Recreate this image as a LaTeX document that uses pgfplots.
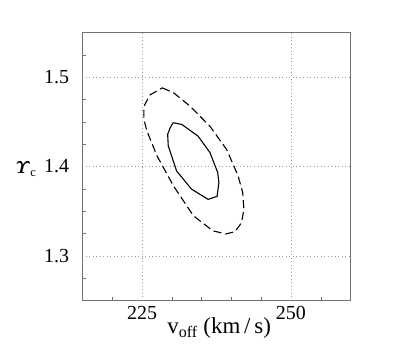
\documentclass[border=0pt]{standalone}
\usepackage{amsmath,bm}
\usepackage{fontspec}
\setmainfont{Liberation Serif}
\usepackage{pgfplots}
\pgfplotsset{compat=1.18}
\newcommand\bigf{\fontsize{20}{22}\selectfont}
\newcommand\labf{\fontsize{23}{26}\selectfont}
\begin{document}
\begin{tikzpicture}
\definecolor{axgray}{gray}{0.45}
\begin{axis}[
    scale only axis, width=268bp, height=268bp,
    xmin=215, xmax=260, ymin=1.25, ymax=1.55,
    xtick={225,250}, ytick={1.3,1.4,1.5},
    minor xtick={220,230,235,240,245,255},
    minor ytick={1.275,1.325,1.35,1.375,1.425,1.45,1.475,1.525},
    yticklabels={1.3,1.4,1.5},
    tick align=inside, tick pos=left,
    major tick length=0pt, minor tick length=4bp,
    every tick/.style={axgray, thin},
    axis line style={axgray, line width=0.8pt},
    grid=major,
    grid style={gray!80, line width=0.6pt, dash pattern=on 1bp off 2.5bp},
    /pgf/number format/assume math mode=true,
    tick label style={font=\bigf},
    xticklabel style={yshift=-2bp},
    yticklabel style={xshift=-10bp},
    xlabel={$\text{v}_{\text{off}}$ (km\,/\,s)},
    xlabel style={font=\labf, at={(axis description cs:0.51,-0.104)}, anchor=center},
    ylabel={{\boldmath$\bm{\varUpsilon}$}$_{\text{c}}$},
    ylabel style={font=\fontsize{18}{20}\selectfont, rotate=-90, at={(axis description cs:-0.21,0.49)}, anchor=center},
  ]
\addplot[black, line width=1.1pt, dash pattern=on 8bp off 4bp] coordinates {
  (228.4,1.488) (230.3,1.4825) (233.05,1.4676) (236.4,1.445) (239.2,1.419)
  (241.1,1.390) (241.9,1.371) (242.1,1.352) (241.7,1.337) (240.6,1.327) (239.05,1.3245)
  (236.9,1.328) (233.6,1.345) (230.3,1.378) (227.5,1.412) (225.8,1.440) (225.3,1.453)
  (225.3,1.467) (226.3,1.480) (228.4,1.488)};
\addplot[black, line width=1.1pt] coordinates {
  (230.2,1.449) (231.7,1.447) (234.4,1.434) (236.4,1.4156) (237.7,1.3933)
  (237.9,1.382) (237.6,1.3666) (236.1,1.3632) (233.3,1.3747) (230.8,1.395)
  (229.4,1.423) (229.3,1.436) (229.7,1.443) (230.2,1.449)};
\end{axis}
\useasboundingbox (-82.5bp,-52bp) rectangle (337.5bp,300.5bp);
\end{tikzpicture}
\end{document}
